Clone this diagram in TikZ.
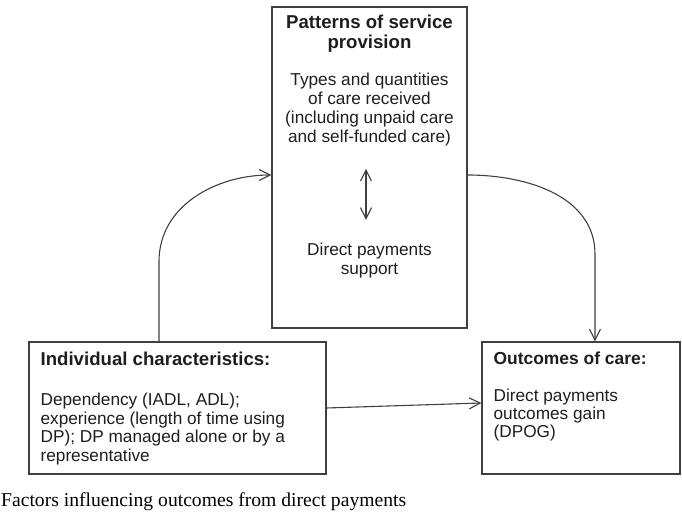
\documentclass[tikz,border=0pt]{standalone}
\usepackage{fontspec}
\setmainfont{Liberation Serif}
\setsansfont{Liberation Sans}
\usetikzlibrary{positioning}
\usetikzlibrary{arrows.meta}
\definecolor{linegray}{RGB}{64,64,64}
\definecolor{inkgray}{RGB}{30,30,30}

\begin{document}
\begin{tikzpicture}[x=1bp,y=1bp,
        >={Straight Barb[length=11bp,width=11bp]},
        box/.style={draw=linegray, line width=1.2bp, rectangle, inner sep=0pt},
        head/.style={font=\sffamily\bfseries\fontsize{18.7}{20}\selectfont, text=inkgray, inner sep=0pt},
        body/.style={font=\sffamily\fontsize{17.3}{19}\selectfont, text=inkgray, inner sep=0pt},
        link/.style={->, draw=linegray, line width=1.1bp}]
        \useasboundingbox (0,0) rectangle (682,523);

        % boxes %
        \node[box, minimum width=195bp, minimum height=321bp] (prov) at (369.5,355.5) {};
        \node[box, minimum width=297bp, minimum height=132bp] (ind) at (177.5,115) {};
        \node[box, minimum width=198bp, minimum height=132bp] (out) at (581,115) {};

        % texts %
        \node[head, below=8.5bp of prov.north, align=center] (provhead) {Patterns of service\\provision};
        \node[body, below=20bp of provhead, align=center] (types) {Types and quantities\\of care received\\(including unpaid care\\and self-funded care)};
        \node[body, below=97bp of types, align=center] (dps) {Direct payments\\support};

        \node[head, below right=10bp and 12bp of ind.north west, align=left] (indhead) {Individual characteristics:};
        \node[body, below right=51bp and 12bp of ind.north west, align=left] (indtext) {Dependency (IADL, ADL);\\experience (length of time using\\DP); DP managed alone or by a\\representative};

        \node[head, font=\sffamily\bfseries\fontsize{17.5}{19}\selectfont, below right=10bp and 12bp of out.north west] (outhead) {Outcomes of care:};
        \node[body, font=\sffamily\fontsize{17.3}{18}\selectfont, below right=47.6bp and 12bp of out.north west, align=left] (outtext) {Direct payments\\outcomes gain\\(DPOG)};

        \node[font=\rmfamily\fontsize{19.7}{22}\selectfont, anchor=base west, inner sep=0pt] (caption) at (1,16) {Factors influencing outcomes from direct payments};

        % edges %
        \draw[link] ([xshift=-18.5bp]ind.north) -- ([xshift=-18.5bp,yshift=80bp]ind.north) to[out=90,in=180] ([yshift=-7.5bp]prov.west);
        \draw[link] ([yshift=-7.5bp]prov.east) to[out=0,in=90] ([xshift=14bp,yshift=87bp]out.north) -- ([xshift=14bp]out.north);
        \draw[link] (ind.east) -- ([yshift=5bp]out.west);
        \draw[link, <->, shorten >=23bp, shorten <=23bp] ([xshift=-3.5bp]types.south) -- ([xshift=-3.5bp]dps.north);
\end{tikzpicture}
\end{document}
